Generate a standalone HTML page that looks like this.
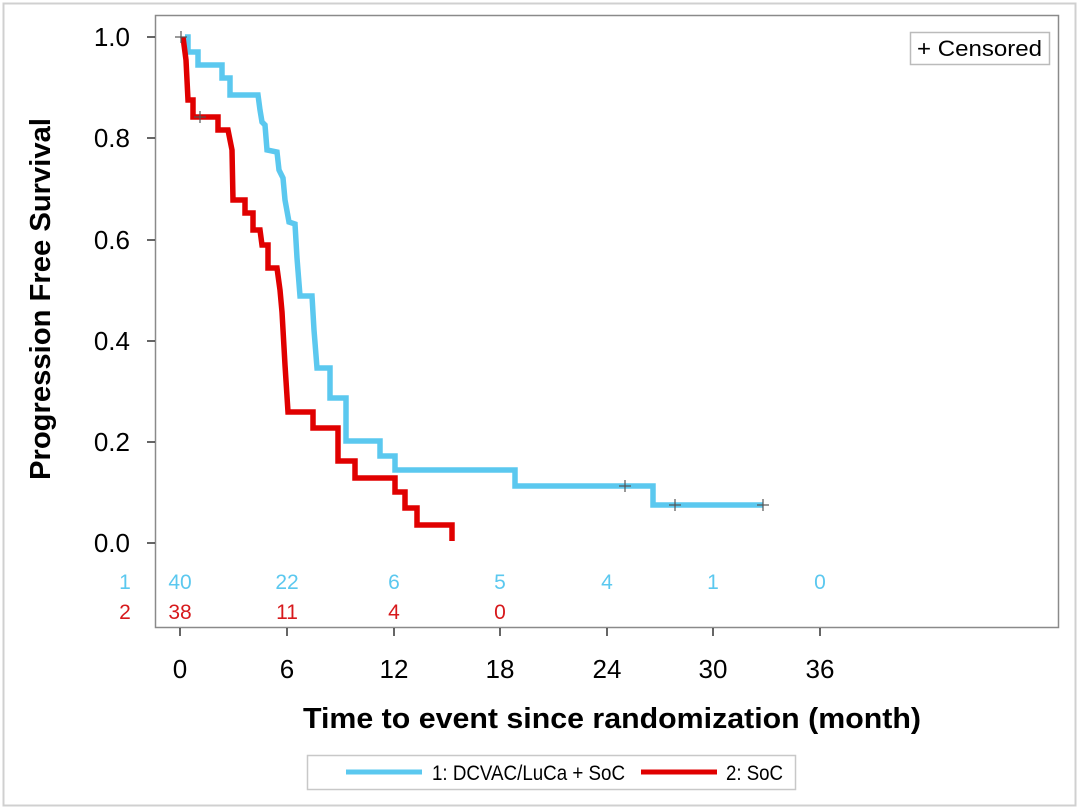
<!DOCTYPE html>
<html><head><meta charset="utf-8"><style>
html,body{margin:0;padding:0;background:#fff;}
svg{display:block;font-family:"Liberation Sans",sans-serif;}
</style></head><body>
<svg width="1080" height="810" viewBox="0 0 1080 810" xmlns="http://www.w3.org/2000/svg">
<rect x="3.5" y="3.5" width="1072" height="802" fill="#fff" stroke="#d0d0d0" stroke-width="2"/>
<rect x="155.5" y="15.5" width="903" height="612" fill="#fff" stroke="#8a8a8a" stroke-width="1.5"/>
<g stroke="#333" stroke-width="1.5">
<line x1="147" y1="37" x2="155" y2="37"/><line x1="147" y1="138" x2="155" y2="138"/>
<line x1="147" y1="240" x2="155" y2="240"/><line x1="147" y1="341" x2="155" y2="341"/>
<line x1="147" y1="442" x2="155" y2="442"/><line x1="147" y1="543" x2="155" y2="543"/>
<line x1="180" y1="628" x2="180" y2="636"/><line x1="287" y1="628" x2="287" y2="636"/>
<line x1="394" y1="628" x2="394" y2="636"/><line x1="500" y1="628" x2="500" y2="636"/>
<line x1="607" y1="628" x2="607" y2="636"/><line x1="713" y1="628" x2="713" y2="636"/>
<line x1="820" y1="628" x2="820" y2="636"/>
</g>
<g font-size="26" fill="#000" text-anchor="end">
<text x="130" y="46">1.0</text><text x="130" y="147">0.8</text><text x="130" y="249">0.6</text>
<text x="130" y="350">0.4</text><text x="130" y="451">0.2</text><text x="130" y="552">0.0</text>
</g>
<g font-size="26" fill="#000" text-anchor="middle">
<text x="180" y="678">0</text><text x="287" y="678">6</text><text x="394" y="678">12</text>
<text x="500" y="678">18</text><text x="607" y="678">24</text><text x="713" y="678">30</text><text x="820" y="678">36</text>
</g>
<text x="612" y="728" font-size="29" font-weight="bold" text-anchor="middle" textLength="618" lengthAdjust="spacingAndGlyphs">Time to event since randomization (month)</text>
<text transform="translate(50,299) rotate(-90)" font-size="29" font-weight="bold" text-anchor="middle" textLength="362" lengthAdjust="spacingAndGlyphs">Progression Free Survival</text>
<g font-size="21" text-anchor="middle" fill="#5bc8ef">
<text x="125" y="589">1</text><text x="180" y="589">40</text><text x="287" y="589">22</text><text x="394" y="589">6</text>
<text x="500" y="589">5</text><text x="607" y="589">4</text><text x="713" y="589">1</text><text x="820" y="589">0</text>
</g>
<g font-size="21" text-anchor="middle" fill="#d7191c">
<text x="125" y="619">2</text><text x="180" y="619">38</text><text x="287" y="619">11</text><text x="394" y="619">4</text><text x="500" y="619">0</text>
</g>
<rect x="910.5" y="32.5" width="139" height="32" fill="#fff" stroke="#bbb" stroke-width="1.5"/>
<text x="917" y="56" font-size="22" textLength="125" lengthAdjust="spacingAndGlyphs">+ Censored</text>
<polyline fill="none" stroke="#5bc8ef" stroke-width="5.5" points="
185,37 188,37 188,52 198,52 198,65 222,65 222,78 230,78 230,95 258,95 260,110 262,122 265,125 267,150 277,152 279,170 283,178 285,200 289,222 295,224 297,258 300,296 312,296 314,330 317,368 330,368 330,398 346,398 346,441 380,441 380,456 395,456 395,470 515,470 515,486 653,486 653,505 763,505"/>
<polyline fill="none" stroke="#e00000" stroke-width="5.5" points="
183,37 186,60 188,100 193,100 193,117 218,117 218,130 228,130 232,150 233,200 245,200 245,213 253,213 253,230 260,230 262,245 268,245 268,268 277,268 280,290 282,312 285,365 288,412 313,412 313,428 338,428 338,461 355,461 355,478 395,478 395,492 405,492 405,508 417,508 417,525 452,525 452,541"/>
<g stroke="#555" stroke-width="1.2">
<line x1="175" y1="37" x2="187" y2="37"/><line x1="181" y1="31" x2="181" y2="43"/>
<line x1="194" y1="117" x2="206" y2="117"/><line x1="200" y1="111" x2="200" y2="123"/>
<line x1="619" y1="486" x2="631" y2="486"/><line x1="625" y1="480" x2="625" y2="492"/>
<line x1="669" y1="505" x2="681" y2="505"/><line x1="675" y1="499" x2="675" y2="511"/>
<line x1="757" y1="505" x2="769" y2="505"/><line x1="763" y1="499" x2="763" y2="511"/>
</g>
<rect x="307.5" y="755.5" width="488" height="34" fill="#fff" stroke="#c8c8c8" stroke-width="1.5"/>
<line x1="346" y1="772" x2="422" y2="772" stroke="#5bc8ef" stroke-width="5"/>
<text x="432" y="780" font-size="21" textLength="193" lengthAdjust="spacingAndGlyphs">1: DCVAC/LuCa + SoC</text>
<line x1="641" y1="772" x2="717" y2="772" stroke="#e00000" stroke-width="5"/>
<text x="726" y="780" font-size="21" textLength="57" lengthAdjust="spacingAndGlyphs">2: SoC</text>
</svg>
</body></html>
